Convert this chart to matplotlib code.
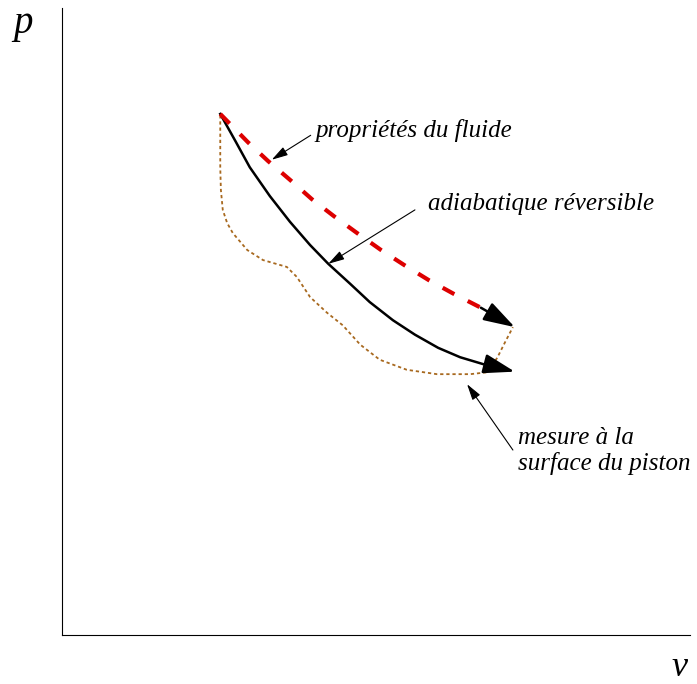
import matplotlib.pyplot as plt

# p-v diagram: detente adiabatique, reversible vs reelle
v_adiab = [2.52, 2.76, 2.99, 3.31, 3.63, 3.95, 4.24, 4.59, 4.90, 5.27, 5.62, 5.99,
           6.34, 6.74, 6.98, 7.21]
p_adiab = [8.31, 7.88, 7.46, 7.00, 6.59, 6.22, 5.92, 5.60, 5.31, 5.02, 4.79, 4.58,
           4.43, 4.31, 4.26, 4.20]

v_fluide = [2.52, 2.96, 3.28, 3.63, 3.98, 4.33, 4.70, 5.08, 5.45, 5.84, 6.24, 6.67, 7.21]
p_fluide = [8.31, 7.86, 7.56, 7.26, 6.95, 6.68, 6.41, 6.14, 5.90, 5.66, 5.44, 5.22, 4.91]

v_piston = [2.52, 2.52, 2.52, 2.53, 2.56, 2.63, 2.72, 2.95, 3.20, 3.58, 3.74, 3.95,
            4.22, 4.47, 4.75, 5.06, 5.49, 5.97, 6.50, 6.77, 6.93, 7.05, 7.18]
p_piston = [8.29, 7.89, 7.46, 7.10, 6.78, 6.57, 6.41, 6.14, 5.98, 5.87, 5.71, 5.39,
            5.14, 4.94, 4.63, 4.39, 4.23, 4.16, 4.16, 4.19, 4.42, 4.66, 4.91]

plt.rcParams['font.family'] = ['Liberation Serif', 'DejaVu Serif']

fig = plt.figure(figsize=(6.97, 6.84), dpi=100)
ax = fig.add_axes([62 / 697, 49 / 684, 628 / 697, 627 / 684])
ax.set_xlim(0, 10)
ax.set_ylim(0, 10)
ax.spines['top'].set_visible(False)
ax.spines['right'].set_visible(False)
ax.set_xticks([])
ax.set_yticks([])

ax.plot(v_piston, p_piston, color='#a8691f', lw=1.3, ls=(0, (1.8, 1.6)))
ax.plot(v_adiab[:-1], p_adiab[:-1], color='black', lw=1.8, solid_joinstyle='round')
ax.plot(v_fluide[:-1], p_fluide[:-1], color='#dd0000', lw=3, ls=(0, (3.2, 3.6)))

# pointes de fleche en bout de courbe
for vs, ps in [(v_adiab, p_adiab), (v_fluide, p_fluide)]:
    ax.annotate('', xy=(vs[-1], ps[-1]), xytext=(vs[-2], ps[-2]),
                arrowprops=dict(arrowstyle='-|>,head_length=1.6,head_width=0.5',
                                color='black', lw=1.8, mutation_scale=12,
                                shrinkA=0, shrinkB=0))

label_kw = dict(fontsize=18, style='italic', va='center', ha='left')
arrow_kw = dict(arrowstyle='-|>,head_length=0.7,head_width=0.2', color='black',
                lw=0.8, mutation_scale=14, shrinkA=0, shrinkB=0)

ax.text(4.04, 8.05, 'propriétés du fluide', **label_kw)
ax.annotate('', xy=(3.34, 7.58), xytext=(3.96, 7.97), arrowprops=arrow_kw)

ax.text(5.83, 6.87, 'adiabatique réversible', **label_kw)
ax.annotate('', xy=(4.24, 5.92), xytext=(5.62, 6.78), arrowprops=arrow_kw)

ax.text(7.26, 2.93, 'mesure à la\nsurface du piston', linespacing=1.15, **label_kw)
ax.annotate('', xy=(6.45, 4.00), xytext=(7.18, 2.95), arrowprops=arrow_kw)

fig.text(23 / 697, 1 - 23 / 684, 'p', fontsize=28, style='italic', ha='center', va='center')
fig.text(680 / 697, 1 - 676 / 684, 'v', fontsize=26, style='italic', ha='center', va='baseline')

fig.savefig('out.png', dpi=100)
